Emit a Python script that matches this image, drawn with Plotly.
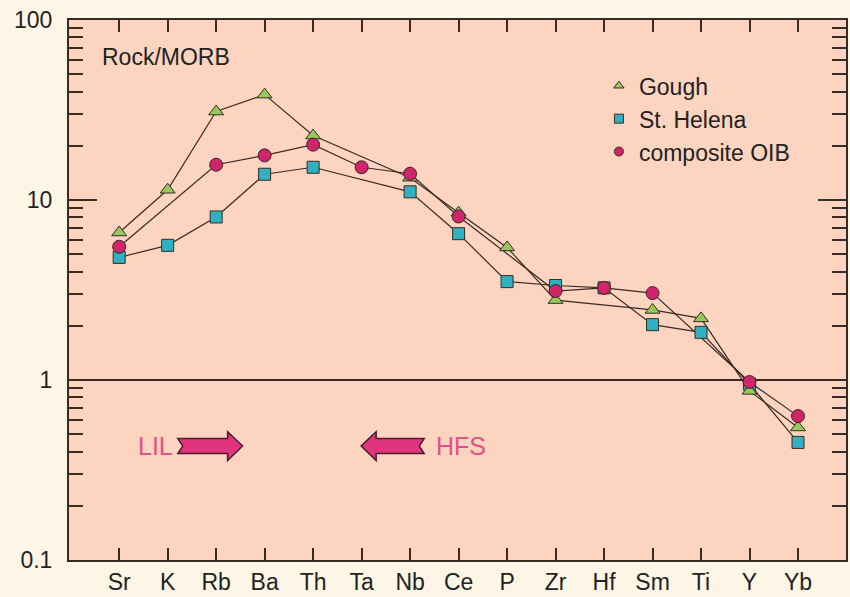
import plotly.graph_objects as go

# ---- data ----
elements = ["Sr", "K", "Rb", "Ba", "Th", "Ta", "Nb", "Ce", "P", "Zr", "Hf", "Sm", "Ti", "Y", "Yb"]
gough = [6.6, 11.4, 31.0, 38.5, 22.8, None, 13.3, 8.5, 5.45, 2.78, None, 2.45, 2.2, 0.87, 0.545]
st_helena = [4.8, 5.6, 8.05, 13.9, 15.2, None, 11.1, 6.5, 3.52, 3.35, 3.25, 2.03, 1.84, 0.95, 0.45]
composite_oib = [5.5, None, 15.7, 17.7, 20.3, 15.2, 14.0, 8.1, None, 3.12, 3.25, 3.04, None, 0.975, 0.63]
y_tick_vals = [0.1, 1, 10, 100]
y_tick_text = ["0.1", "1", "10", "100"]

positions = list(range(len(elements)))

FONT = "Liberation Sans, Arial, Helvetica, sans-serif"
DARK = "#3a2a24"
PLOT_BG = "#fcd4c0"
PAPER_BG = "#fdf6e6"

series = [
    ("St. Helena", st_helena, "square", "#2fb1c2", 12),
    ("Gough", gough, "triangle-up", "#95c95a", 13),
    ("composite OIB", composite_oib, "circle", "#d0246c", 13),
]

fig = go.Figure()

# lines first
for name, vals, sym, col, sz in series:
    fig.add_trace(go.Scatter(x=positions, y=vals, mode="lines", connectgaps=True,
                             line=dict(color=DARK, width=1.2), showlegend=False,
                             hoverinfo="skip"))
# markers on top
for name, vals, sym, col, sz in series:
    fig.add_trace(go.Scatter(x=positions, y=vals, mode="markers", name=name,
                             marker=dict(symbol=sym, size=sz, color=col,
                                         line=dict(color=DARK, width=1)),
                             showlegend=False))
# legend keys (small symbols, legend order as in reference)
for name, vals, sym, col, sz in [series[1], series[0], series[2]]:
    fig.add_trace(go.Scatter(x=[None], y=[None], mode="markers", name=name,
                             marker=dict(symbol=sym, size=9, color=col,
                                         line=dict(color=DARK, width=1))))

# decorative arrows (x in category units, y in axis-domain fraction)
def arrow_path(tail, head_base, tip, yc, bh=0.0138, hh=0.0266, notch=0.1):
    d = 1 if tip > tail else -1
    n = notch * d
    return (f"M {tail},{yc+bh} L {head_base},{yc+bh} L {head_base},{yc+hh} "
            f"L {tip},{yc} L {head_base},{yc-hh} L {head_base},{yc-bh} "
            f"L {tail},{yc-bh} L {tail+n},{yc} Z")

shapes = [
    dict(type="line", xref="x domain", yref="y domain", x0=0, x1=1, y0=1/3, y1=1/3,
         line=dict(color=DARK, width=2), layer="below"),
    dict(type="path", xref="x", yref="y domain", path=arrow_path(1.21, 2.236, 2.545, 0.211),
         fillcolor="#e0357e", line=dict(color="#4a1a28", width=1.5)),
    dict(type="path", xref="x", yref="y domain", path=arrow_path(6.29, 5.30, 4.99, 0.211),
         fillcolor="#e0357e", line=dict(color="#4a1a28", width=1.5)),
]

annotations = [
    dict(text="Rock/MORB", xref="paper", yref="paper", x=0.040, y=0.932,
         xanchor="left", yanchor="middle", showarrow=False,
         font=dict(family=FONT, size=23, color="#222")),
    dict(text="LIL", xref="x", yref="paper", x=0.74, y=0.211,
         xanchor="center", yanchor="middle", showarrow=False,
         font=dict(family=FONT, size=25, color="#e2508a")),
    dict(text="HFS", xref="x", yref="paper", x=7.05, y=0.211,
         xanchor="center", yanchor="middle", showarrow=False,
         font=dict(family=FONT, size=25, color="#e2508a")),
]

minor_vals = [m * 10 ** e for e in (-1, 0, 1) for m in range(2, 10)]

fig.update_layout(
    width=850, height=597,
    margin=dict(l=69, r=2, t=20, b=32),
    paper_bgcolor=PAPER_BG, plot_bgcolor=PLOT_BG,
    font=dict(family=FONT, size=22, color="#222"),
    shapes=shapes, annotations=annotations,
    legend=dict(x=0.682, y=0.918, xanchor="left", yanchor="top",
                bgcolor="rgba(0,0,0,0)", font=dict(family=FONT, size=23, color="#222"),
                itemsizing="trace", tracegroupgap=0),
    xaxis=dict(
        range=[-1.035, 14.99], tickvals=positions, ticktext=elements,
        showgrid=False, zeroline=False, showline=True, linecolor=DARK, linewidth=2,
        mirror="allticks", ticks="inside", ticklen=12, tickwidth=1.5, tickcolor=DARK,
        tickfont=dict(family=FONT, size=23, color="#222"),
    ),
    yaxis=dict(
        type="log", range=[-1, 2], tickvals=y_tick_vals, ticktext=y_tick_text,
        showgrid=False, zeroline=False, showline=True, linecolor=DARK, linewidth=2,
        mirror="allticks", ticks="inside", ticklen=28, tickwidth=2, tickcolor=DARK,
        ticklabelstandoff=10,
        tickfont=dict(family=FONT, size=23, color="#222"),
        minor=dict(tickvals=minor_vals, ticks="inside", ticklen=14, tickwidth=2,
                   tickcolor=DARK, showgrid=False),
    ),
)

fig.write_html("out.html", config={"displayModeBar": False},
               post_script="document.body.style.margin='0';")
